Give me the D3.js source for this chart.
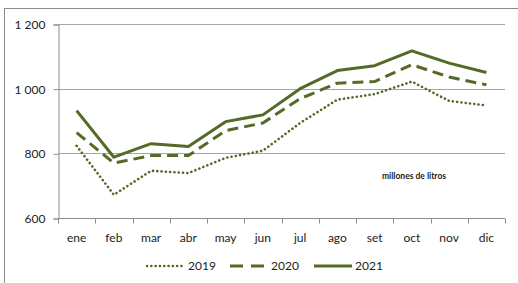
<!DOCTYPE html>
<html>
<head>
<meta charset="utf-8">
<script src="https://cdn.jsdelivr.net/npm/d3@7"></script>
<style>
  body { margin: 0; background: #fff; }
  text { font-family: Lato, "Open Sans", sans-serif; fill: #222; }
</style>
</head>
<body>
<svg id="viz" width="518" height="283"></svg>
<script>
// data
var months = ["ene", "feb", "mar", "abr", "may", "jun", "jul", "ago", "set", "oct", "nov", "dic"];
var v2019 = [823, 672, 746, 739, 786, 808, 894, 966, 983, 1022, 962, 948];
var v2020 = [864, 770, 793, 793, 870, 894, 969, 1017, 1022, 1074, 1036, 1012];
var v2021 = [932, 788, 830, 821, 898, 919, 1000, 1056, 1071, 1117, 1079, 1050];
var yTicks = [600, 800, 1000, 1200];
var years = ["2019", "2020", "2021"];

var green = "#536b26";
var svg = d3.select("#viz");

// outer frame (cut off at right and bottom like the original)
svg.append("rect")
  .attr("x", 4.5).attr("y", 8.5)
  .attr("width", 600).attr("height", 400)
  .attr("fill", "none").attr("stroke", "#8c8c8c");

var plotL = 58, plotR = 505, plotT = 24, plotB = 218;

var x = d3.scaleBand().domain(months).range([plotL, plotR]);
var y = d3.scaleLinear().domain([600, 1200]).range([plotB, plotT]);

// gridlines
svg.append("g")
  .selectAll("line")
  .data(yTicks.slice(1))
  .join("line")
  .attr("x1", plotL).attr("x2", plotR)
  .attr("y1", d => Math.round(y(d)) + 0.5).attr("y2", d => Math.round(y(d)) + 0.5)
  .attr("stroke", "#a6a6a6");

// y axis
var yAxis = svg.append("g")
  .attr("transform", "translate(" + (plotL + 0.5) + ",0.5)")
  .call(d3.axisLeft(y).tickValues(yTicks).tickSize(5).tickPadding(8)
    .tickFormat(d => d3.format(",")(d).replace(",", " ")));
yAxis.select(".domain").attr("stroke", "#8c8c8c");
yAxis.selectAll(".tick line").attr("stroke", "#8c8c8c");
yAxis.selectAll("text").attr("font-size", 12).attr("font-family", null);

// x axis, ticks between categories
var xAxis = svg.append("g")
  .attr("transform", "translate(0," + (Math.round(plotB) + 0.5) + ")");
xAxis.append("line")
  .attr("x1", plotL).attr("x2", plotR)
  .attr("stroke", "#8c8c8c");
xAxis.selectAll(".tk")
  .data(d3.range(months.length + 1))
  .join("line")
  .attr("class", "tk")
  .attr("x1", i => Math.round(plotL + i * x.step()) + 0.5)
  .attr("x2", i => Math.round(plotL + i * x.step()) + 0.5)
  .attr("y1", 0).attr("y2", 5)
  .attr("stroke", "#8c8c8c");
xAxis.selectAll(".lbl")
  .data(months)
  .join("text")
  .attr("class", "lbl")
  .attr("x", d => x(d) + x.bandwidth() / 2)
  .attr("y", 23)
  .attr("text-anchor", "middle")
  .attr("font-size", 12)
  .text(d => d);

var styles = [
  { data: v2019, dash: "0.1 4.2", width: 2.6, cap: "round" },
  { data: v2020, dash: "11 6", width: 3, cap: "butt" },
  { data: v2021, dash: null, width: 3, cap: "butt" }
];

var line = d3.line()
  .x((d, i) => x(months[i]) + x.bandwidth() / 2)
  .y(d => y(d));

styles.forEach(s => {
  svg.append("path")
    .attr("d", line(s.data))
    .attr("fill", "none")
    .attr("stroke", green)
    .attr("stroke-width", s.width)
    .attr("stroke-linecap", s.cap)
    .attr("stroke-linejoin", "round")
    .attr("stroke-dasharray", s.dash);
});

svg.append("text")
  .attr("x", 414).attr("y", 179)
  .attr("text-anchor", "middle")
  .attr("font-size", 8.5)
  .attr("font-weight", "bold")
  .text("millones de litros");

// legend
var legX = [147, 230, 314];
var legDash = ["0.1 4.2", "13 8", null];
var leg = svg.append("g");
styles.forEach((s, i) => {
  leg.append("line")
    .attr("x1", legX[i]).attr("x2", legX[i] + 38)
    .attr("y1", 266).attr("y2", 266)
    .attr("stroke", green)
    .attr("stroke-width", s.width)
    .attr("stroke-linecap", s.cap)
    .attr("stroke-dasharray", legDash[i]);
  leg.append("text")
    .attr("x", legX[i] + 41).attr("y", 270)
    .attr("font-size", 12)
    .text(years[i]);
});
</script>
</body>
</html>
